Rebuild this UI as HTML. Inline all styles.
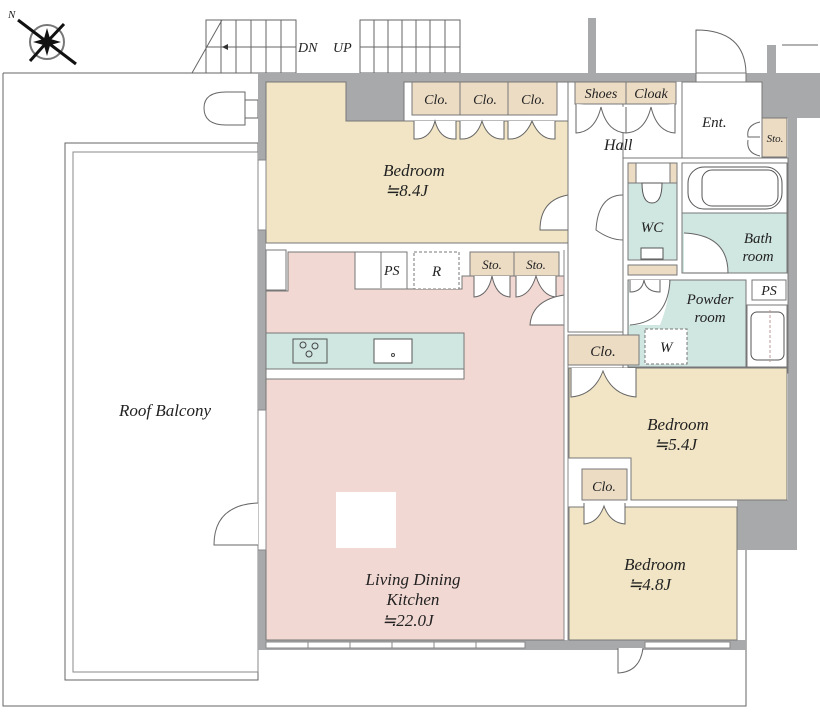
<!DOCTYPE html>
<html><head><meta charset="utf-8"><style>
html,body{margin:0;padding:0;background:#fff}
svg{display:block}
text{font-family:"Liberation Serif",serif;font-style:italic;fill:#222}
</style></head><body>
<svg width="820" height="712" viewBox="0 0 820 712" xmlns="http://www.w3.org/2000/svg">
<g fill="none" stroke="#666" stroke-width="1">
<path d="M3 73 H258 M3 73 V706 H746 V545"/>
</g>
<rect x="65" y="143" width="193" height="537" fill="#fff" stroke="#666"/>
<rect x="73" y="152" width="185" height="520" fill="#fff" stroke="#888"/>
<path d="M245 92 H226 Q204 92 204 108 Q204 125 226 125 H245 Z M245 100 H258 V118 H245" fill="#fff" stroke="#666"/>
<!-- stairs -->
<g stroke="#666" fill="#fff">
<rect x="206" y="20" width="90" height="53"/>
<path d="M222 20 L192 73 M206 47 H296 M221 20V73 M236 20V73 M251 20V73 M266 20V73 M281 20V73"/>
<rect x="360" y="20" width="100" height="53"/>
<path d="M360 47 H460 M374 20V73 M388 20V73 M402 20V73 M416 20V73 M430 20V73 M445 20V73"/>
</g>
<path d="M222 47 l6 -3 v6 z" fill="#333"/>
<text x="298" y="52" font-size="14">DN</text>
<text x="333" y="52" font-size="14">UP</text>
<!-- compass -->
<circle cx="47" cy="42" r="17" fill="none" stroke="#777" stroke-width="2"/>
<path d="M18 20 L47 42 L76 64 M30 61 L47 42 L64 24" stroke="#111" stroke-width="3"/>
<path d="M47 28 L51 42 L47 56 L43 42 Z M33 42 L47 38 L61 42 L47 46Z" fill="#111"/>
<text x="8" y="18" font-size="11">N</text>
<!-- walls -->
<rect x="258" y="73" width="505" height="9" fill="#a8a9ab"/>
<rect x="258" y="73" width="8" height="577" fill="#a8a9ab"/>
<rect x="588" y="18" width="8" height="58" fill="#a8a9ab"/>
<rect x="767" y="45" width="9" height="30" fill="#a8a9ab"/>
<rect x="762" y="73" width="58" height="45" fill="#a8a9ab"/>
<rect x="788" y="82" width="9" height="468" fill="#a8a9ab"/>
<rect x="737" y="500" width="60" height="50" fill="#a8a9ab"/>
<rect x="258" y="640" width="488" height="10" fill="#a8a9ab"/>
<rect x="346" y="82" width="58" height="39" fill="#a8a9ab"/>
<path d="M782 45 H818" stroke="#666"/>
<!-- entrance door -->
<path d="M696 73 V30 Q745 30 746 73" fill="#fff" stroke="#666"/>
<rect x="696" y="73" width="50" height="9" fill="#fff" stroke="#777"/>
<!-- bedroom 8.4 -->
<path d="M266 82 H346 V121 H568 V243 H266 Z" fill="#f1e5c5" stroke="#777"/>
<rect x="404" y="82" width="164" height="39" fill="#fff" stroke="#777"/>
<g fill="#ecdcc4" stroke="#777"><rect x="412" y="82" width="48" height="33"/><rect x="460" y="82" width="48" height="33"/><rect x="508" y="82" width="49" height="33"/></g>
<path d="M414 121 V139 Q430 140 435 121 Q440 140 456 139 V121 M460 121 V139 Q476 140 482 121 Q488 140 504 139 V121 M508 121 V139 Q524 140 532 121 Q540 140 555 139 V121" fill="#fff" stroke="#666"/>
<path d="M568 195 Q540 200 540 230 H568" fill="#fff" stroke="#666"/>
<text x="414" y="176" font-size="17" text-anchor="middle">Bedroom</text>
<text x="385" y="196" font-size="17">≒8.4J</text>
<g font-size="14" text-anchor="middle"><text x="436" y="104">Clo.</text><text x="485" y="104">Clo.</text><text x="533" y="104">Clo.</text></g>
<!-- LDK -->
<path d="M288 252 H355 V289 H462 V276 H564 V640 H266 V291 H288 Z" fill="#f2d8d3" stroke="#777"/>
<rect x="266" y="250" width="20" height="40" fill="#fff" stroke="#777"/>
<rect x="355" y="252" width="52" height="37" fill="#fff" stroke="#777"/>
<path d="M381 252 V288" stroke="#777"/>
<rect x="414" y="252" width="45" height="37" fill="#fff" stroke="#777" stroke-dasharray="3,2"/>
<text x="384" y="275" font-size="14">PS</text>
<text x="432" y="276" font-size="15">R</text>
<rect x="470" y="252" width="89" height="24" fill="#ecdcc4" stroke="#777"/>
<path d="M514 252 V276" stroke="#777"/>
<text x="492" y="269" font-size="13" text-anchor="middle">Sto.</text>
<text x="536" y="269" font-size="13" text-anchor="middle">Sto.</text>
<path d="M474 276 V297 Q488 296 492 276 Q496 296 510 297 V276 M516 276 V297 Q530 296 536 276 Q542 296 556 297 V276" fill="#fff" stroke="#666"/>
<path d="M564 295 Q532 300 530 325 H564" fill="#fff" stroke="#666"/>
<rect x="266" y="333" width="198" height="36" fill="#d0e6e0" stroke="#777"/>
<rect x="266" y="369" width="198" height="10" fill="#fff" stroke="#777"/>
<rect x="293" y="339" width="34" height="24" fill="none" stroke="#555"/>
<circle cx="303" cy="345" r="3" fill="none" stroke="#444"/><circle cx="315" cy="346" r="3" fill="none" stroke="#444"/><circle cx="309" cy="354" r="3" fill="none" stroke="#444"/>
<rect x="374" y="339" width="38" height="24" fill="#fff" stroke="#555"/>
<circle cx="393" cy="355" r="1.5" fill="none" stroke="#444"/>
<rect x="336" y="492" width="60" height="56" fill="#fff"/>
<text x="413" y="585" font-size="17" text-anchor="middle">Living Dining</text>
<text x="413" y="605" font-size="17" text-anchor="middle">Kitchen</text>
<text x="382" y="626" font-size="17">≒22.0J</text>
<!-- windows -->
<g stroke="#888" fill="#fff">
<rect x="266" y="642" width="259" height="6"/>
<path d="M308 642v6 M350 642v6 M392 642v6 M434 642v6 M476 642v6"/>
<rect x="258" y="410" width="8" height="140"/>
<rect x="258" y="160" width="8" height="70"/>
<rect x="645" y="642" width="85" height="6"/>
</g>
<path d="M258 503 Q214 505 214 545 H258" fill="#fff" stroke="#666"/>
<path d="M618 648 V673 Q640 672 643 648" fill="#fff" stroke="#666"/>
<!-- Hall -->
<rect x="568" y="82" width="55" height="250" fill="#fff" stroke="#777"/>
<rect x="575" y="82" width="101" height="22" fill="#ecdcc4" stroke="#777"/>
<path d="M626 82 V104" stroke="#777"/>
<text x="601" y="98" font-size="14" text-anchor="middle">Shoes</text>
<text x="651" y="98" font-size="14" text-anchor="middle">Cloak</text>
<path d="M576 104 V133 Q595 132 601 107 Q607 132 626 133 V107 M626 107 V133 Q645 132 651 107 Q657 132 675 133 V104" fill="#fff" stroke="#666"/>
<text x="604" y="150" font-size="16">Hall</text>
<path d="M623 195 Q598 195 596 230 Q610 240 623 240" fill="#fff" stroke="#666"/>
<!-- Ent -->
<rect x="682" y="82" width="80" height="76" fill="#fff" stroke="#777"/>
<text x="702" y="127" font-size="15">Ent.</text>
<rect x="762" y="118" width="25" height="39" fill="#ecdcc4" stroke="#777"/>
<text x="775" y="142" font-size="11" text-anchor="middle">Sto.</text>
<path d="M760 122 Q746 125 748 137 H760 M760 156 Q746 153 748 140" fill="none" stroke="#666"/>
<!-- WC / bath block -->
<rect x="623" y="158" width="165" height="215" fill="#fff" stroke="#777"/>
<rect x="628" y="163" width="49" height="97" fill="#d0e6e0" stroke="#777"/>
<rect x="628" y="163" width="49" height="20" fill="#ecdcc4" stroke="#777"/>
<rect x="636" y="163" width="34" height="20" fill="#fff" stroke="#777"/>
<path d="M642 183 q0 20 10 20 q10 0 10 -20 z" fill="#fff" stroke="#555"/>
<text x="652" y="232" font-size="15" text-anchor="middle">WC</text>
<rect x="641" y="248" width="22" height="11" fill="#fff" stroke="#555"/>
<rect x="682" y="163" width="105" height="50" fill="#fff" stroke="#777"/>
<rect x="688" y="167" width="94" height="42" rx="16" fill="#fff" stroke="#555"/>
<rect x="702" y="170" width="76" height="36" rx="10" fill="#fff" stroke="#555"/>
<rect x="682" y="213" width="105" height="60" fill="#d0e6e0" stroke="#777"/>
<path d="M684 233 Q728 235 728 273 H684" fill="#fff" stroke="#666"/>
<text x="758" y="243" font-size="15" text-anchor="middle">Bath</text>
<text x="758" y="261" font-size="15" text-anchor="middle">room</text>
<!-- powder -->
<rect x="628" y="265" width="49" height="10" fill="#ecdcc4" stroke="#777"/>
<rect x="628" y="280" width="118" height="87" fill="#d0e6e0" stroke="#777"/>
<path d="M629 280 V325 H660 Q670 300 669 280 Z" fill="#fff" stroke="none"/>
<path d="M630 280 V292 Q642 292 644 280 Q646 292 660 292 V280" fill="#fff" stroke="#666"/>
<path d="M630 325 Q668 322 670 280" fill="none" stroke="#666"/>
<text x="710" y="304" font-size="15" text-anchor="middle">Powder</text>
<text x="710" y="322" font-size="15" text-anchor="middle">room</text>
<rect x="645" y="329" width="42" height="35" fill="#fff" stroke="#777" stroke-dasharray="3,2"/>
<text x="660" y="352" font-size="15">W</text>
<rect x="752" y="280" width="34" height="20" fill="#fff" stroke="#777"/>
<text x="769" y="295" font-size="14" text-anchor="middle">PS</text>
<rect x="747" y="305" width="40" height="62" fill="#fff" stroke="#777"/>
<rect x="751" y="312" width="33" height="48" rx="6" fill="#fff" stroke="#555"/>
<path d="M770 310 V362" stroke="#b99" stroke-dasharray="3,2"/>
<!-- bedroom 5.4 -->
<rect x="568" y="335" width="71" height="30" fill="#ecdcc4" stroke="#777"/>
<text x="603" y="356" font-size="15" text-anchor="middle">Clo.</text>
<path d="M569 368 H787 V500 H631 V458 H569 Z" fill="#f1e5c5" stroke="#777"/>
<path d="M571 368 V397 Q594 395 603 371 Q612 395 636 397 V368" fill="#fff" stroke="#666"/>
<text x="678" y="430" font-size="17" text-anchor="middle">Bedroom</text>
<text x="654" y="450" font-size="17">≒5.4J</text>
<!-- bedroom 4.8 -->
<path d="M569 507 H737 V640 H569 Z" fill="#f1e5c5" stroke="#777"/>
<rect x="582" y="469" width="45" height="31" fill="#ecdcc4" stroke="#777"/>
<text x="604" y="491" font-size="14" text-anchor="middle">Clo.</text>
<path d="M584 503 V524 Q598 523 604 506 Q610 523 625 524 V503" fill="#fff" stroke="#666"/>
<text x="655" y="570" font-size="17" text-anchor="middle">Bedroom</text>
<text x="628" y="590" font-size="17">≒4.8J</text>
<path d="M564 250 V640 M568 365 V640" stroke="#888"/>
<text x="165" y="416" font-size="17" text-anchor="middle">Roof Balcony</text>
</svg>
</body></html>
